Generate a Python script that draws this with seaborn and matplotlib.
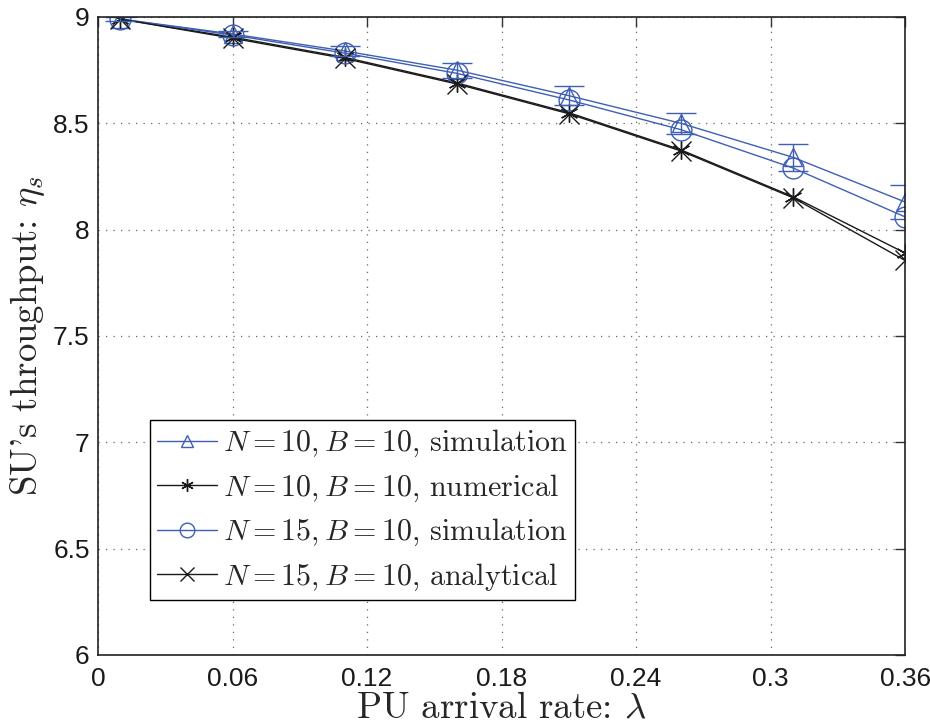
import pandas as pd
import seaborn as sns
import matplotlib.pyplot as plt

# PU arrival rate
lam = [0.01, 0.06, 0.11, 0.16, 0.21, 0.26, 0.31, 0.36]

# SU throughput
sim_n10 = [8.99, 8.92, 8.84, 8.75, 8.63, 8.50, 8.34, 8.13]
sim_n10_err = [0.01, 0.015, 0.025, 0.035, 0.045, 0.05, 0.065, 0.08]
num_n10 = [8.99, 8.905, 8.81, 8.69, 8.55, 8.375, 8.155, 7.89]
sim_n15 = [8.99, 8.915, 8.83, 8.735, 8.61, 8.47, 8.29, 8.06]
ana_n15 = [8.99, 8.90, 8.805, 8.685, 8.545, 8.37, 8.15, 7.855]

labels = [r'$N=10, B=10$, simulation',
          r'$N=10, B=10$, numerical',
          r'$N=15, B=10$, simulation',
          r'$N=15, B=10$, analytical']

blue = '#3f5fb5'
black = '#1a1a1a'

series = [sim_n10, num_n10, sim_n15, ana_n15]
colors = [blue, black, blue, black]
markers = ['^', (6, 2, 0), 'o', 'x']
msizes = [13, 13, 15, 14]

sns.set_style('white')
plt.rcParams['mathtext.fontset'] = 'cm'
plt.rcParams['axes.formatter.use_mathtext'] = True

fig = plt.figure(figsize=(9.3, 7.25), dpi=100)
ax = fig.add_axes([0.1054, 0.0966, 0.8678, 0.88])

for vals, lab, c, m, ms in zip(series, labels, colors, markers, msizes):
    d = pd.DataFrame({'lam': lam, 'eta': vals})
    sns.lineplot(data=d, x='lam', y='eta', color=c, label=lab, ax=ax,
                 marker=m, markersize=ms, markerfacecolor='none',
                 markeredgecolor=c, markeredgewidth=1.0, linewidth=1.0)

ax.errorbar(lam, sim_n10, yerr=sim_n10_err, fmt='none', ecolor=blue,
            elinewidth=1.0, capsize=11, capthick=1.0)

ax.set_xlim(0, 0.36)
ax.set_ylim(6, 9)
ax.set_xticks([0, 0.06, 0.12, 0.18, 0.24, 0.3, 0.36])
ax.set_xticklabels(['0', '0.06', '0.12', '0.18', '0.24', '0.3', '0.36'])
ax.set_yticks([6, 6.5, 7, 7.5, 8, 8.5, 9])
ax.set_yticklabels(['6', '6.5', '7', '7.5', '8', '8.5', '9'])

for lbl in ax.get_xticklabels() + ax.get_yticklabels():
    lbl.set_family(['Liberation Sans', 'DejaVu Sans'])
    lbl.set_fontsize(19)

ax.tick_params(direction='in', length=7, width=1.0, top=True, right=True,
               colors='#333333', labelcolor='#1a1a1a')
ax.tick_params(axis='x', pad=8.5)
ax.tick_params(axis='y', pad=6)
ax.grid(True, linestyle=(0, (1, 5)), color='#666666', linewidth=0.9)
for s in ax.spines.values():
    s.set_color('#222222')
    s.set_linewidth(1.2)

ax.set_xlabel("PU arrival rate: $\\lambda$", fontsize=26.5, family='cmr10', va='top')
ax.xaxis.set_label_coords(0.5, -0.057)
ax.set_ylabel("SU's throughput: $\\eta_s$", fontsize=26.5, family='cmr10')
ax.yaxis.set_label_coords(-0.063, 0.5)

handles, lbls = ax.get_legend_handles_labels()
leg = ax.legend(handles, lbls, loc='lower left', bbox_to_anchor=(0.064, 0.086),
                borderaxespad=0, fancybox=False, framealpha=1, edgecolor='black',
                prop={'family': 'cmr10', 'size': 21.6}, handlelength=2.0,
                handletextpad=0.2, labelspacing=0.44, borderpad=0.25,
                markerscale=0.7)
leg.get_frame().set_linewidth(1.0)

fig.savefig('out.png', dpi=100)
